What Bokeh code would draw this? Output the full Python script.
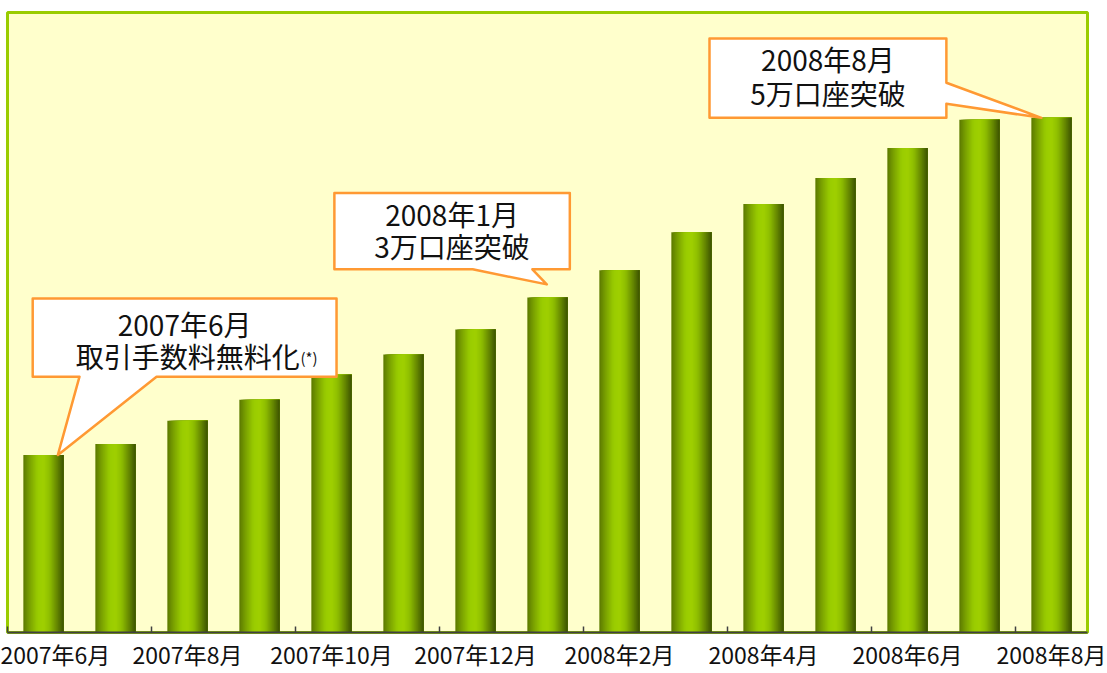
import numpy as np
from bokeh.plotting import figure
from bokeh.models import Range1d, FixedTicker, ColumnDataSource, Label
from bokeh.embed import file_html
from bokeh.resources import INLINE

# ---- data ----
months = ["2007年6月", "2007年7月", "2007年8月", "2007年9月", "2007年10月",
          "2007年11月", "2007年12月", "2008年1月", "2008年2月", "2008年3月",
          "2008年4月", "2008年5月", "2008年6月", "2008年7月", "2008年8月"]
accounts = [17700, 18800, 21100, 23200, 25700, 27700, 30200, 33400,
            36100, 39900, 42700, 45300, 48300, 51100, 51300]
callout_months = ["2007年6月", "2008年1月", "2008年8月"]
callout_lines = [["2007年6月", "取引手数料無料化"],
                 ["2008年1月", "3万口座突破"],
                 ["2008年8月", "5万口座突破"]]

FONT = "Noto Sans CJK JP"
n = len(months)
centers = np.arange(n) + 0.5

p = figure(width=1107, height=673, x_range=Range1d(0, n), y_range=Range1d(0, 61800),
           output_backend="svg", toolbar_location=None, y_axis_location=None,
           min_border_left=7, min_border_right=20, min_border_top=12, min_border_bottom=40)
p.background_fill_color = "#ffffcc"
p.border_fill_color = "white"
p.outline_line_color = "#99cc00"
p.outline_line_width = 3
p.xgrid.visible = False
p.ygrid.visible = False

# ---- bars drawn as gradient strips (each strip runs to the bar's right edge) ----
bar_w = 0.56
nstrips = 20
stops_pos = [0.0, 0.15, 0.35, 0.5, 0.65, 0.82, 1.0]
stops_rgb = np.array([[0x5b, 0x78, 0x00], [0x7a, 0xa0, 0x00], [0x99, 0xcc, 0x00],
                      [0xa0, 0xd0, 0x00], [0x8f, 0xbf, 0x00], [0x6a, 0x8c, 0x00],
                      [0x3c, 0x52, 0x00]])
sw = bar_w / nstrips
lefts, rights, tops, cols = [], [], [], []
for j in range(nstrips):
    t = (j + 0.5) / nstrips
    rgb = [int(np.interp(t, stops_pos, stops_rgb[:, k])) for k in range(3)]
    col = "#%02x%02x%02x" % tuple(rgb)
    for i in range(n):
        lefts.append(centers[i] - bar_w / 2 + sw * j)
        rights.append(centers[i] + bar_w / 2)
        tops.append(accounts[i])
        cols.append(col)
src = ColumnDataSource(dict(left=lefts, right=rights, top=tops, color=cols))
p.quad(left="left", right="right", top="top", bottom=0, fill_color="color",
       line_color=None, source=src)

# ---- x axis ----
ax = p.xaxis[0]
ax.ticker = FixedTicker(ticks=list(centers[::2]), minor_ticks=list(np.arange(0, n, 2)))
ax.major_label_overrides = {float(c): months[i] for i, c in enumerate(centers) if i % 2 == 0}
ax.major_tick_line_color = None
ax.major_tick_in = 0
ax.major_tick_out = 0
ax.minor_tick_in = 6
ax.minor_tick_out = 0
ax.minor_tick_line_color = "#404040"
ax.minor_tick_line_width = 1.5
ax.axis_line_color = "#404040"
ax.axis_line_width = 2
ax.major_label_text_font = FONT
ax.major_label_text_font_size = "23px"
ax.major_label_text_color = "#111111"
ax.major_label_standoff = 4

# ---- callouts ----
ORANGE = "#ff9933"
CFS = "28px"

def draw_callout(x0, x1, y0, y1, pts):
    bx = [x0, x1] + [q[0] for q in pts] + [x0]
    by = [y1, y1] + [q[1] for q in pts] + [y0]
    p.patch(bx, by, fill_color="white", line_color=ORANGE, line_width=2.5, line_join="round")

def label(x, y, text, align="center", size=CFS):
    p.add_layout(Label(x=x, y=y, text=text, text_align=align, text_baseline="middle",
                       text_font=FONT, text_font_size=size, text_color="#111111"))

# callout 1: 2007年6月, pointer down to bar top
i0 = months.index(callout_months[0])
x0, x1, y0, y1 = 0.35, 4.57, 25500, 33300
draw_callout(x0, x1, y0, y1,
             [(x1, y0), (2.07, y0), (centers[i0] + 0.2, accounts[i0]), (1.0, y0)])
label((x0 + x1) / 2, 30800, callout_lines[0][0])
label(4.06, 27600, callout_lines[0][1], align="right")
label(4.07, 27400, "(*)", align="left", size="15px")

# callout 2: 2008年1月
i1 = months.index(callout_months[1])
x0, x1, y0, y1 = 4.54, 7.81, 36200, 43800
draw_callout(x0, x1, y0, y1,
             [(x1, y0), (7.29, y0), (centers[i1] - 0.01, accounts[i1] + 1300), (6.46, y0)])
label((x0 + x1) / 2, 41700, callout_lines[1][0])
label((x0 + x1) / 2, 38500, callout_lines[1][1])

# callout 3: 2008年8月, pointer from right side
i2 = months.index(callout_months[2])
x0, x1, y0, y1 = 9.75, 13.04, 51300, 59200
draw_callout(x0, x1, y0, y1,
             [(x1, 54800), (centers[i2] - 0.14, accounts[i2]), (x1, 52700), (x1, y0)])
label((x0 + x1) / 2, 57200, callout_lines[2][0])
label((x0 + x1) / 2, 53800, callout_lines[2][1])

open("out.html", "w").write(file_html(p, INLINE))
